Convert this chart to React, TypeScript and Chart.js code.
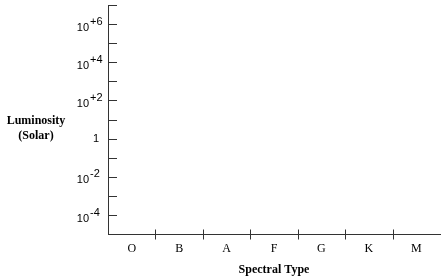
import React, { useEffect, useRef } from "react";
import { Chart, registerables } from "chart.js";

Chart.register(...registerables);

const categories = ["O", "B", "A", "F", "G", "K", "M"];
const yMinExp = -5;
const yMaxExp = 7;
const yTickExponents = [-4, -3, -2, -1, 0, 1, 2, 3, 4, 5, 6, 7];
const yLabelExponents = [-4, -2, 0, 2, 4, 6];
const yLabelExpText = ["-4", "-2", "", "+2", "+4", "+6"];
const yTitleLines = ["Luminosity", "(Solar)"];
const xTitle = "Spectral Type";

const AXIS_COLOR = "#333333";

const axesPlugin = {
  id: "hrAxes",
  afterDraw(chart: any) {
    const ctx = chart.ctx;
    const xs = chart.scales.x;
    const ys = chart.scales.y;
    const area = chart.chartArea;
    ctx.save();
    ctx.strokeStyle = AXIS_COLOR;
    ctx.lineWidth = 1;
    yTickExponents.forEach((e) => {
      const y = Math.round(ys.getPixelForValue(e)) + 0.5;
      ctx.beginPath();
      ctx.moveTo(area.left, y);
      ctx.lineTo(area.left + 9, y);
      ctx.stroke();
    });
    const axisY = Math.round(area.bottom) + 0.5;
    for (let i = 1; i < categories.length; i++) {
      const x = Math.round((xs.getPixelForValue(i - 1) + xs.getPixelForValue(i)) / 2) + 0.5;
      ctx.beginPath();
      ctx.moveTo(x, axisY - 5);
      ctx.lineTo(x, axisY + 5);
      ctx.stroke();
    }
    ctx.fillStyle = "#000";
    ctx.textBaseline = "middle";
    yLabelExponents.forEach((e, i) => {
      const y = ys.getPixelForValue(e);
      const sup = yLabelExpText[i];
      ctx.font = "11px 'Liberation Sans', Arial, sans-serif";
      if (!sup) {
        ctx.textAlign = "center";
        ctx.fillText("1", 96, y);
      } else {
        ctx.textAlign = "right";
        ctx.fillText("10", 89, y + 3.5);
        ctx.textAlign = "left";
        ctx.fillText(sup, 90, y - 2.5);
      }
    });
    ctx.font = "bold 12px 'Liberation Serif', 'Times New Roman', serif";
    ctx.textAlign = "center";
    ctx.fillText(yTitleLines[0], 36, 121);
    ctx.fillText(yTitleLines[1], 36, 136);
    ctx.restore();
  },
};

export default function App() {
  const ref = useRef<HTMLCanvasElement>(null);
  useEffect(() => {
    const canvas = ref.current;
    if (!canvas) return;
    const chart = new Chart(canvas, {
      type: "line",
      data: {
        labels: categories,
        datasets: [],
      },
      options: {
        animation: false,
        responsive: false,
        devicePixelRatio: 1,
        events: [],
        layout: { padding: { left: 108, top: 5, right: 6, bottom: 0 } },
        plugins: {
          legend: { display: false },
          tooltip: { enabled: false },
          title: { display: false },
        },
        scales: {
          x: {
            type: "category",
            offset: true,
            grid: { display: false, drawTicks: false },
            border: { display: true, color: AXIS_COLOR, width: 1 },
            ticks: {
              color: "#000",
              padding: 7,
              font: { family: "'Liberation Serif', 'Times New Roman', serif", size: 12 },
              maxRotation: 0,
              autoSkip: false,
            },
            title: {
              display: true,
              text: xTitle,
              color: "#000",
              font: { family: "'Liberation Serif', 'Times New Roman', serif", size: 12, weight: "bold" },
              padding: { top: 0, bottom: 3 },
            },
          },
          y: {
            type: "linear",
            min: yMinExp,
            max: yMaxExp,
            grid: { display: false, drawTicks: false },
            border: { display: true, color: AXIS_COLOR, width: 1 },
            ticks: { display: false, stepSize: 1 },
          },
        },
      },
      plugins: [axesPlugin],
    });
    return () => chart.destroy();
  }, []);
  return (
    <div style={{ position: "fixed", left: 0, top: 0, width: 446, height: 280, background: "#fff" }}>
      <canvas ref={ref} width={446} height={280} style={{ display: "block", width: 446, height: 280 }} />
    </div>
  );
}
